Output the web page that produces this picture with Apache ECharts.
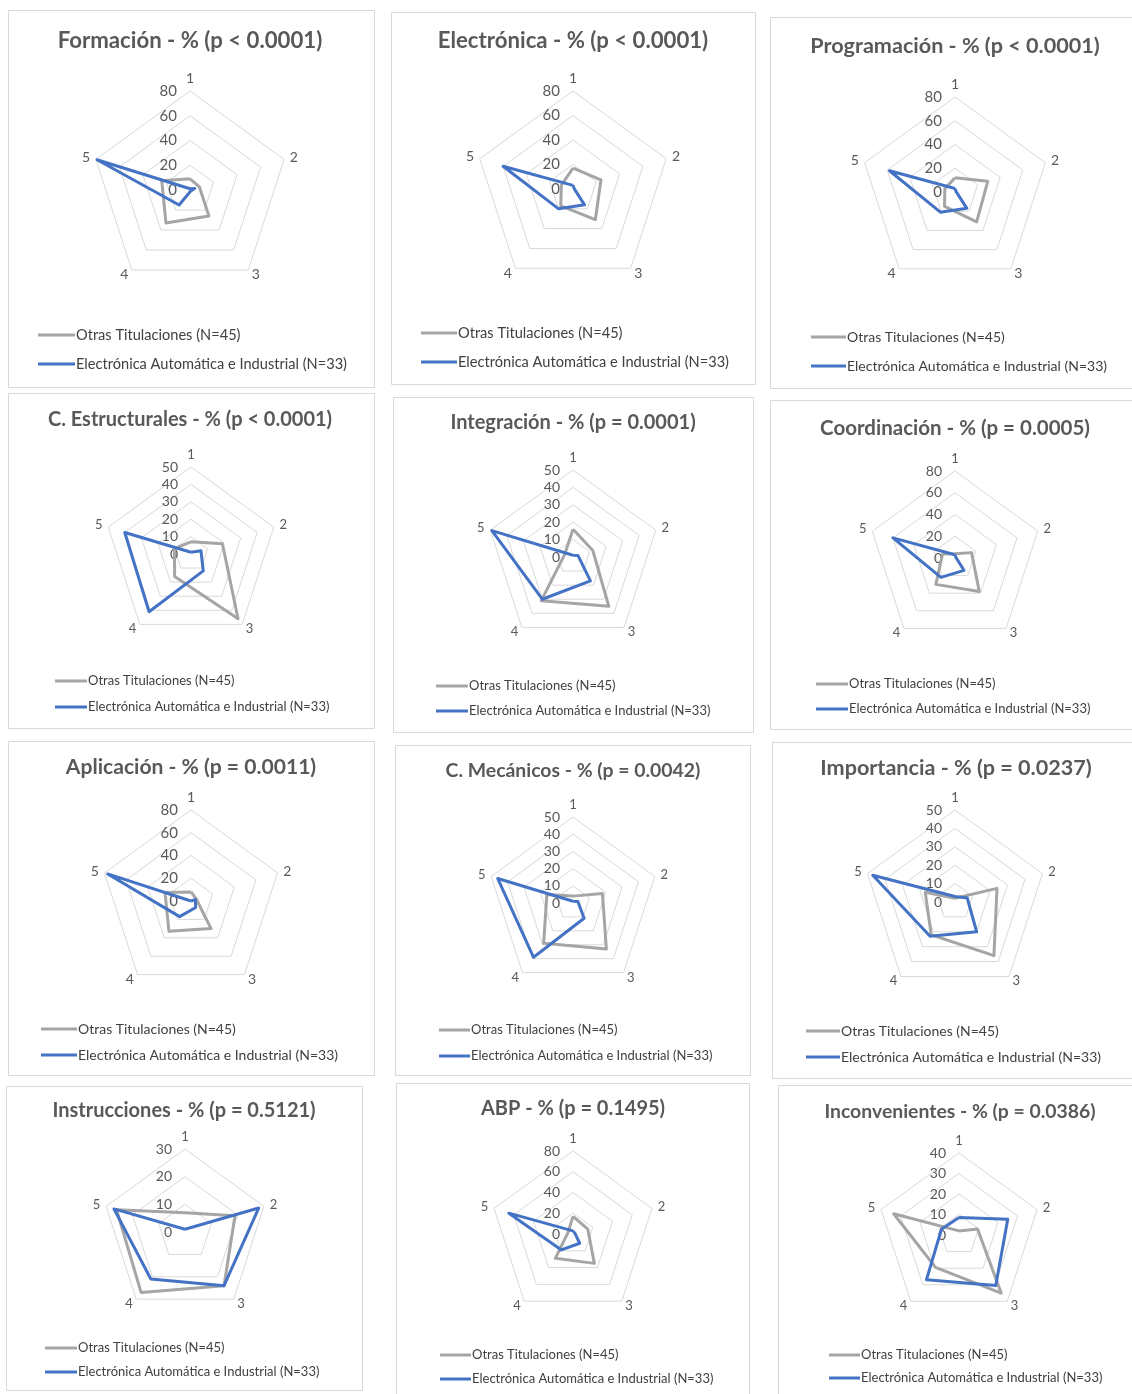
<!DOCTYPE html>
<html><head><meta charset="utf-8">
<script src="https://cdn.jsdelivr.net/npm/echarts@6/dist/echarts.min.js"></script>
<style>html,body{margin:0;padding:0;background:#fff}#c{width:1132px;height:1394px}</style>
</head><body><div id="c"></div>
<script>
// ---- data ----
const categories = ['1', '2', '3', '4', '5'];
const seriesNames = ['Otras Titulaciones (N=45)', 'Electrónica Automática e Industrial (N=33)'];
const titles = [
  'Formación - % (p < 0.0001)', 'Electrónica - % (p < 0.0001)', 'Programación - % (p < 0.0001)',
  'C. Estructurales - % (p < 0.0001)', 'Integración - % (p = 0.0001)', 'Coordinación - % (p = 0.0005)',
  'Aplicación - % (p = 0.0011)', 'C. Mecánicos - % (p = 0.0042)', 'Importancia - % (p = 0.0237)',
  'Instrucciones - % (p = 0.5121)', 'ABP - % (p = 0.1495)', 'Inconvenientes - % (p = 0.0386)'
];
const axisMax  = [80, 80, 80, 50, 50, 80, 80, 50, 50, 30, 80, 40];
const axisStep = [20, 20, 20, 10, 10, 20, 20, 10, 10, 10, 20, 10];
// values for categories 1..5
const otrasValues = [
  [9, 8, 26, 33, 24], [17, 24, 31, 17, 10], [12, 29, 31, 15, 9],
  [7, 19, 46, 16, 10], [16, 12, 35, 31, 5], [4, 16, 38, 30, 12],
  [8, 5, 30, 33, 24], [4, 18, 33, 29, 16], [2, 24, 36, 22, 17],
  [7, 19, 24, 27, 26], [17, 15, 35, 29, 5], [2, 9.5, 35, 19.5, 33.5]
];
const electronicaValues = [
  [1, 4, 1, 15, 79], [3, 1, 16, 20, 60], [3, 1, 17, 21, 58],
  [1, 6, 12, 41, 40], [1, 3, 17, 30, 49], [3, 1, 14, 22, 60],
  [0, 4, 7, 17, 77], [1, 3, 11, 39, 46], [3, 7, 20, 23, 47],
  [1, 28, 24, 21, 27], [3, 2, 11, 19, 65], [8.5, 25, 30.5, 27, 9]
];

// ---- layout (pixels) ----
const panels = [
  {box:[8,10,366,377],   c:[190,190],  r:99, t:[190,41,20],    lg:[38,335,364,37,13.5], fs:14},
  {box:[391,12,364,372], c:[573,189],  r:98, t:[573,41,20],    lg:[421,333,362,36,13.5], fs:14},
  {box:[770,17,370,371], c:[955,192],  r:95, t:[955,46,19.5],  lg:[811,337,366,35,13],   fs:14},
  {box:[8,393,366,335],  c:[191,554],  r:87, t:[190,420,18],   lg:[55,681,707,32,12],    fs:13},
  {box:[393,397,360,335],c:[573,557],  r:87, t:[573,423,18],   lg:[436,686,711,32,12],   fs:13},
  {box:[770,400,370,329],c:[955,558],  r:87, t:[955,428,18.5], lg:[816,684,709,32,12],   fs:13},
  {box:[8,741,366,334],  c:[191,901],  r:91, t:[191,767,19],   lg:[41,1029,1055,36,13],  fs:14},
  {box:[395,745,355,330],c:[573,903],  r:86, t:[573,771,17.5], lg:[439,1030,1056,31,12], fs:13},
  {box:[772,742,370,336],c:[955,902],  r:92, t:[956,768,19.5], lg:[806,1031,1057,34,13], fs:13},
  {box:[6,1086,356,304], c:[185,1232], r:83, t:[184,1111,18],  lg:[45,1348,1372,32,12],  fs:13},
  {box:[396,1083,353,320],c:[573,1234],r:83, t:[573,1109,18],  lg:[440,1355,1379,31,12], fs:13},
  {box:[778,1085,360,320],c:[959,1235],r:82, t:[960,1112,17.5],lg:[829,1355,1378,31,12], fs:13}
];

const FONT = 'Lato, "Noto Sans", sans-serif';
const GRAY = '#a5a5a5', BLUE = '#4472c4';
const TITLE_SCALE = 1.11, LEGEND_SCALE = 1.08;
// Excel draws clockwise (1 top, 2 right...); ECharts radar goes counter-clockwise
const ORDER = [0, 4, 3, 2, 1];
const reorder = v => ORDER.map(k => v[k]);

const chart = echarts.init(document.getElementById('c'), null, {renderer: 'canvas'});

const graphics = [];
panels.forEach((p, i) => {
  graphics.push({type: 'rect', z: 0, silent: true,
    shape: {x: p.box[0] + 0.5, y: p.box[1] + 0.5, width: p.box[2], height: p.box[3]},
    style: {fill: '#fff', stroke: '#d9d9d9', lineWidth: 1}});
  graphics.push({type: 'text', z: 10, silent: true, x: p.t[0], y: p.t[1],
    style: {text: titles[i], fill: '#595959', font: 'bold ' + (p.t[2] * TITLE_SCALE).toFixed(1) + 'px ' + FONT,
      textAlign: 'center', textVerticalAlign: 'middle'}});
});

const option = {
  backgroundColor: '#fff',
  animation: false,
  graphic: {elements: graphics},
  radar: panels.map((p, i) => ({
    center: p.c, radius: p.r, startAngle: 90, shape: 'polygon',
    splitNumber: axisMax[i] / axisStep[i],
    indicator: ORDER.map((k, j) => {
      const ind = {name: categories[k], min: 0, max: axisMax[i]};
      if (j === 0) ind.axisLabel = {show: true, color: '#595959', fontSize: p.fs + 1, fontFamily: FONT, margin: 13};
      return ind;
    }),
    nameGap: 6,
    axisName: {color: '#595959', fontSize: p.fs, fontFamily: FONT},
    splitLine: {lineStyle: {color: '#d9d9d9', width: 1}},
    splitArea: {show: false},
    axisLine: {show: false},
    axisTick: {show: false},
    axisLabel: {show: false}
  })),
  legend: panels.map((p, i) => ({
    orient: 'vertical', left: p.lg[0], top: p.lg[1] - 8,
    itemGap: (p.lg[2] - p.lg[1]) - 16, padding: 0,
    itemWidth: p.lg[3], itemHeight: 3, icon: 'rect', selectedMode: false,
    data: [{name: seriesNames[0], itemStyle: {color: GRAY}}, {name: seriesNames[1], itemStyle: {color: BLUE}}],
    textStyle: {fontFamily: FONT, fontSize: +(p.lg[4] * LEGEND_SCALE).toFixed(1), color: '#404040', lineHeight: 16, padding: [0, 0, 0, -4]}
  })),
  series: panels.map((p, i) => ({
    type: 'radar', radarIndex: i, symbol: 'none', silent: true, z: 5,
    data: [
      {name: seriesNames[0], value: reorder(otrasValues[i]), lineStyle: {color: GRAY, width: 3}, itemStyle: {color: GRAY}},
      {name: seriesNames[1], value: reorder(electronicaValues[i]), lineStyle: {color: BLUE, width: 3}, itemStyle: {color: BLUE}}
    ]
  }))
};
chart.setOption(option);
</script></body></html>
